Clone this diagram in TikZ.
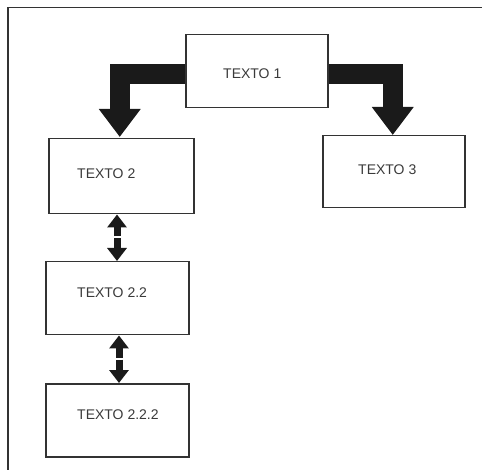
\documentclass[tikz,border=0pt]{standalone}
\usepackage{fontspec}
\setmainfont{Liberation Sans}
\usetikzlibrary{arrows.meta,calc}
\definecolor{ink}{HTML}{1A1A1A}
\definecolor{edge}{HTML}{333333}
\definecolor{label}{HTML}{3A3A3A}
\begin{document}
\begin{tikzpicture}[x=1pt,y=-1pt,
  box/.style={draw=edge,line width=1.5pt,fill=white,anchor=north west,inner sep=0pt},
  txt/.style={text=label,font=\fontsize{14}{16}\selectfont,anchor=west,inner sep=0pt},
  bigarrow/.style={ink,line width=20pt,line join=miter,
    -{Triangle[width=40pt,length=28pt]}},
  duoarrow/.style={ink,line width=7pt,
    -{Triangle[width=19pt,length=13pt]}}]
  \useasboundingbox (0,0) rectangle (482,470);

  % outer frame (only top and left sides are visible)
  \draw[edge,line width=1.5pt] (8,470) -- (8,7.5) -- (482,7.5);

  % boxes
  \node[box,minimum width=142pt,minimum height=73pt] (t1) at (185,34) {};
  \node[box,minimum width=145pt,minimum height=75pt] (t2) at (48,138) {};
  \node[box,minimum width=142pt,minimum height=72pt] (t3) at (322,135) {};
  \node[box,minimum width=143pt,minimum height=73pt] (t22) at (45,261) {};
  \node[box,minimum width=143pt,minimum height=73pt] (t222) at (45,383) {};

  % labels
  \node[txt] at (223,73.5) {TEXTO 1};
  \node[txt] at (77,174) {TEXTO 2};
  \node[txt] at (358,169.5) {TEXTO 3};
  \node[txt] at (77,292.5) {TEXTO 2.2};
  \node[txt] at (77,415) {TEXTO 2.2.2};

  % thick elbow arrows from the top box
  \draw[bigarrow] ($(t1.west)+(0,2.5)$) -| ($(t2.north)+(-1.5,-1)$);
  \draw[bigarrow] ($(t1.east)+(0,2.5)$) -| ($(t3.north)+(-1,0)$);

  % double arrows between the stacked boxes
  \coordinate (m1a) at (117,236.5);
  \coordinate (m1b) at (117,238.5);
  \draw[duoarrow] (m1a) -- (m1a |- t2.south);
  \draw[duoarrow] (m1b) -- (m1b |- t22.north);

  \coordinate (m2a) at (119,357.5);
  \coordinate (m2b) at (119,359.5);
  \draw[duoarrow] (m2a) -- (m2a |- t22.south);
  \draw[duoarrow] (m2b) -- (m2b |- t222.north);
\end{tikzpicture}
\end{document}
